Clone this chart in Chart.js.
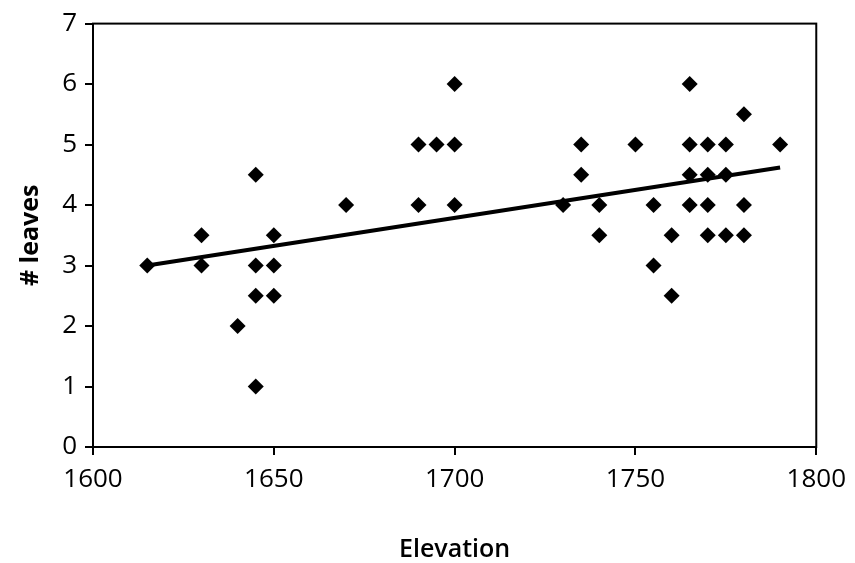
<!DOCTYPE html>
<html>
<head>
<meta charset="utf-8">
<script src="https://cdn.jsdelivr.net/npm/chart.js@4"></script>
<style>
  html, body { margin: 0; padding: 0; background: #fff; }
  #wrap { width: 855px; height: 563px; }
</style>
</head>
<body>
<div id="wrap"><canvas id="chart" width="855" height="563"></canvas></div>
<script>
const elevation = [1615, 1630, 1630, 1640, 1645, 1645, 1645, 1645, 1650, 1650, 1650, 1670,
    1690, 1695, 1700, 1700, 1690, 1700,
    1730, 1735, 1735, 1740, 1740, 1750, 1755, 1755, 1760, 1760,
    1765, 1765, 1765, 1765, 1770, 1770, 1770, 1770, 1775, 1775, 1775,
    1780, 1780, 1780, 1790];
const leaves = [3, 3.5, 3, 2, 4.5, 3, 2.5, 1, 3.5, 3, 2.5, 4,
    5, 5, 5, 6, 4, 4,
    4, 5, 4.5, 4, 3.5, 5, 4, 3, 3.5, 2.5,
    6, 5, 4.5, 4, 5, 4.5, 4, 3.5, 5, 4.5, 3.5,
    5.5, 4, 3.5, 5];
const trendX = [1615, 1790];
const trendY = [3.0, 4.62];

const points = elevation.map((x, i) => ({ x: x, y: leaves[i] }));
const trend = trendX.map((x, i) => ({ x: x, y: trendY[i] }));

const FONT = "'Open Sans', 'DejaVu Sans', sans-serif";

// box around the plot area
const frame = {
    id: 'frame',
    afterDraw(chart) {
        const a = chart.chartArea;
        const ctx = chart.ctx;
        ctx.save();
        ctx.strokeStyle = '#000';
        ctx.lineWidth = 2;
        ctx.strokeRect(a.left, a.top, a.right - a.left, a.bottom - a.top);
        ctx.restore();
    }
};

new Chart(document.getElementById('chart'), {
    type: 'scatter',
    data: {
        datasets: [
            {
                label: 'leaves',
                data: points,
                pointStyle: 'rectRot',
                pointRadius: 8,
                backgroundColor: '#000',
                borderColor: '#000',
                borderWidth: 0
            },
            {
                label: 'trend',
                type: 'line',
                data: trend,
                borderColor: '#000',
                borderWidth: 4,
                pointRadius: 0,
                fill: false
            }
        ]
    },
    options: {
        responsive: false,
        animation: false,
        layout: { padding: { top: 20, right: 37, left: 0, bottom: 0 } },
        plugins: {
            legend: { display: false },
            tooltip: { enabled: false }
        },
        scales: {
            x: {
                type: 'linear',
                min: 1600,
                max: 1800,
                ticks: { stepSize: 50, color: '#000', font: { family: FONT, size: 26 }, padding: 9,
                    callback: v => String(v) },
                grid: { drawOnChartArea: false, color: '#000', tickLength: 8, lineWidth: 2 },
                border: { color: '#000', width: 2 },
                title: { display: true, text: 'Elevation', color: '#000', font: { family: FONT, size: 25, weight: '600' }, padding: { top: 4, bottom: -2 } },
                afterFit(scale) { scale.height = 563 - 447; }
            },
            y: {
                min: 0,
                max: 7,
                ticks: { stepSize: 1, color: '#000', font: { family: FONT, size: 26 }, padding: 8 },
                grid: { drawOnChartArea: false, color: '#000', tickLength: 8, lineWidth: 2 },
                border: { color: '#000', width: 2 },
                title: { display: true, text: '# leaves', color: '#000', font: { family: FONT, size: 25, weight: 'bold' }, padding: { top: 16, bottom: 0 } },
                afterFit(scale) { scale.width = 93; }
            }
        }
    },
    plugins: [frame]
});
</script>
</body>
</html>
